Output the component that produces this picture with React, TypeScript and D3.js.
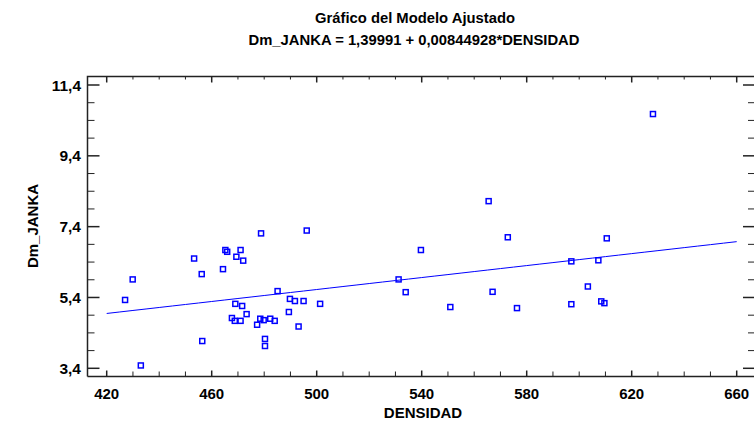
import React from "react";
import * as d3 from "d3";

const densidad = [
  496.2, 478.8, 465.2, 465.9, 471.0, 469.4, 453.3, 472.0, 464.3, 456.2,
  429.9, 485.1, 427.0, 489.8, 491.7, 495.0, 501.3, 469.0, 471.6, 473.3,
  489.4, 467.7, 468.8, 471.0, 478.5, 479.8, 482.3, 484.0, 477.3, 493.1,
  456.4, 480.3, 480.3, 433.0, 565.5, 539.7, 572.8, 531.2, 533.9, 550.9,
  567.0, 576.3, 597.0, 597.0, 603.3, 628.1, 610.5, 607.3, 608.4, 609.6,
];
const janka = [
  7.29, 7.21, 6.74, 6.69, 6.74, 6.55, 6.5, 6.44, 6.2, 6.06,
  5.91, 5.58, 5.33, 5.36, 5.3, 5.3, 5.22, 5.22, 5.16, 4.93,
  4.99, 4.82, 4.74, 4.74, 4.8, 4.76, 4.8, 4.74, 4.63, 4.58,
  4.17, 4.23, 4.03, 3.48, 8.12, 6.74, 7.1, 5.91, 5.55, 5.13,
  5.56, 5.1, 6.42, 5.21, 5.71, 10.58, 7.07, 6.45, 5.29, 5.24,
];
const intercept = 1.39991;
const slope = 0.00844928;
const xTickLabels = [420, 460, 500, 540, 580, 620, 660];
const yTickLabels = [3.4, 5.4, 7.4, 9.4, 11.4];

const FONT = "'Liberation Sans', Arial, sans-serif";
const BLUE = "#0000ff";

export default function App() {
  const W = 754, H = 421;
  const left = 87.5, right = 755, top = 76.5, bottom = 376.5;
  const x = d3.scaleLinear().domain([420, 660]).range([106.7, 736.7]);
  const y = d3.scaleLinear().domain([3.4, 11.4]).range([368.3, 85]);

  const xMinor = d3.range(420, 660.001, 10);
  const yMinor = d3.range(3.4, 11.401, 0.5);
  const isMajorX = (v: number) => Math.abs((v - 420) % 40) < 1e-6;
  const isMajorY = (v: number) => Math.abs(((v - 3.4 + 1e-9) % 2)) < 1e-6;

  const lineX = d3.range(420, 660.001, 5);
  const linePath = d3
    .line<number>()
    .x((d) => x(d))
    .y((d) => y(intercept + slope * d))(lineX) as string;

  const fmt = (v: number) => v.toFixed(1).replace(".", ",");
  const s = 5;

  return (
    <svg
      width={W}
      height={H}
      style={{ position: "absolute", left: 0, top: 0, background: "#fff" }}
      fontFamily={FONT}
    >
      <rect x={0} y={0} width={W} height={H} fill="#fff" />
      <text x={415} y={23} textAnchor="middle" fontWeight="bold" fontSize={14.8}>
        Gráfico del Modelo Ajustado
      </text>
      <text x={414} y={45} textAnchor="middle" fontWeight="bold" fontSize={14.8}>
        Dm_JANKA = 1,39991 + 0,00844928*DENSIDAD
      </text>

      {/* frame */}
      <path
        d={`M${left},${bottom}V${top}H${right}`}
        fill="none"
        stroke="#222"
        strokeWidth={1.5}
      />
      <line x1={left} x2={right} y1={bottom} y2={bottom} stroke="#222" strokeWidth={1.5} />

      {/* x ticks */}
      {xMinor.map((v) => {
        const px = x(v);
        const maj = isMajorX(v);
        return (
          <g key={"xt" + v}>
            <line x1={px} x2={px} y1={bottom} y2={bottom - (maj ? 6 : 5)} stroke="#222" strokeWidth={maj ? 1.5 : 1} />
            <line x1={px} x2={px} y1={top} y2={top + (maj ? 6 : 3)} stroke="#222" strokeWidth={maj ? 1.5 : 1} />
          </g>
        );
      })}
      {xTickLabels.map((v) => (
        <text key={"xl" + v} x={x(v)} y={398.5} textAnchor="middle" fontWeight="bold" fontSize={15}>
          {v}
        </text>
      ))}

      {/* y ticks */}
      {yMinor.map((v) => {
        const py = y(v);
        const maj = isMajorY(v);
        return (
          <g key={"yt" + v}>
            <line x1={left} x2={left + (maj ? 12 : 7)} y1={py} y2={py} stroke="#222" strokeWidth={maj ? 1.5 : 1} />
            <line x1={right} x2={right - (maj ? 12 : 7)} y1={py} y2={py} stroke="#222" strokeWidth={maj ? 1.5 : 1} />
          </g>
        );
      })}
      {yTickLabels.map((v) => (
        <text key={"yl" + v} x={81} y={y(v) + 5.5} textAnchor="end" fontWeight="bold" fontSize={15.5}>
          {fmt(v)}
        </text>
      ))}

      {/* axis titles */}
      <text x={423} y={418} textAnchor="middle" fontWeight="bold" fontSize={15}>
        DENSIDAD
      </text>
      <text
        transform={`translate(38,${226}) rotate(-90)`}
        textAnchor="middle"
        fontWeight="bold"
        fontSize={15}
      >
        Dm_JANKA
      </text>

      {/* fitted line */}
      <path d={linePath} fill="none" stroke={BLUE} strokeWidth={1} />

      {/* points */}
      {densidad.map((d, i) => (
        <rect
          key={"p" + i}
          x={x(d) - s / 2}
          y={y(janka[i]) - s / 2}
          width={s}
          height={s}
          fill="none"
          stroke={BLUE}
          strokeWidth={1.5}
        />
      ))}
    </svg>
  );
}
